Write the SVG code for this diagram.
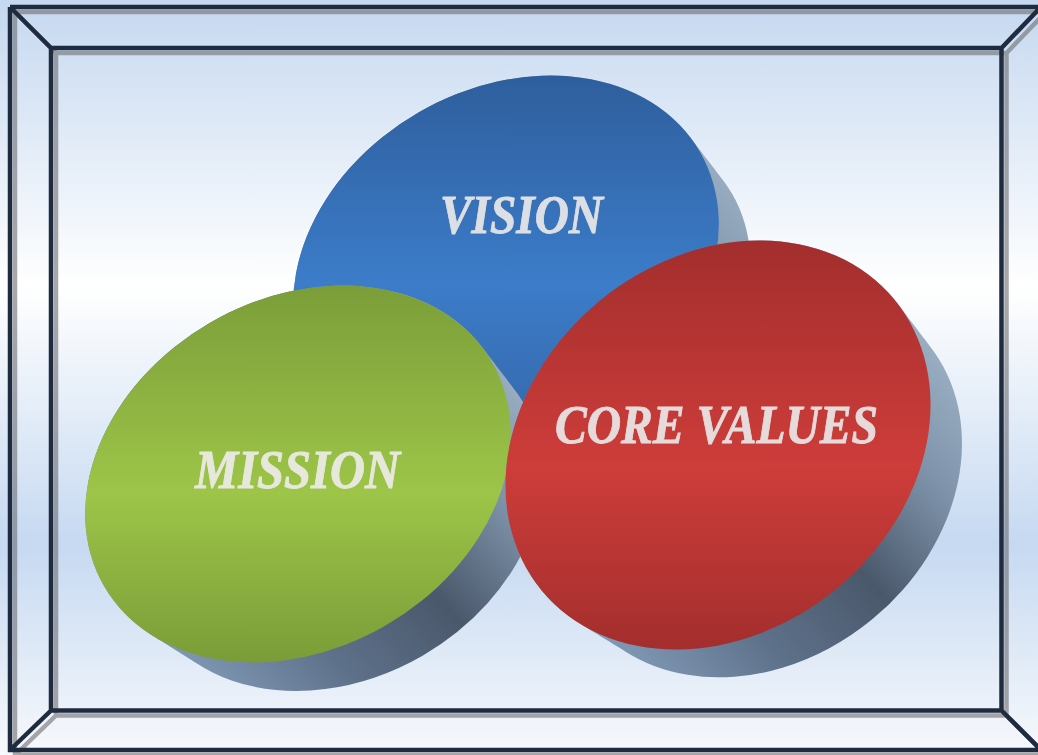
<svg xmlns="http://www.w3.org/2000/svg" xmlns:xlink="http://www.w3.org/1999/xlink" width="1038" height="755" viewBox="0 0 1038 755">
  <style>
    .lbl { font-family: "Liberation Serif", "DejaVu Serif", serif; font-weight: bold; font-style: italic; font-size: 54px; text-anchor: middle; stroke-width: 0.9; }
    .frameLine { fill: none; stroke: #1f2b3e; stroke-width: 4.5; stroke-linejoin: miter; }
    .frameShadow { fill: none; stroke: #6e6e72; stroke-width: 4.5; }
  </style>
  <defs>
    <linearGradient id="bg" x1="0" y1="0" x2="0" y2="755" gradientUnits="userSpaceOnUse">
      <stop offset="0" stop-color="#c5d8f0"/>
      <stop offset="0.38" stop-color="#ffffff"/>
      <stop offset="0.72" stop-color="#c6d9f1"/>
      <stop offset="1" stop-color="#f7f9fc"/>
    </linearGradient>
    <linearGradient id="shade" x1="235" y1="-120" x2="-110" y2="200" gradientUnits="userSpaceOnUse">
      <stop offset="0" stop-color="#a3b7ca"/>
      <stop offset="0.25" stop-color="#7f94ab"/>
      <stop offset="0.5" stop-color="#4a586b"/>
      <stop offset="0.75" stop-color="#5e718a"/>
      <stop offset="1" stop-color="#8199b6"/>
    </linearGradient>
    <linearGradient id="blueFace" x1="0" y1="-190" x2="0" y2="190" gradientUnits="userSpaceOnUse">
      <stop offset="0" stop-color="#2e5e9c"/>
      <stop offset="0.55" stop-color="#3c7cc9"/>
      <stop offset="1" stop-color="#3465a6"/>
    </linearGradient>
    <linearGradient id="greenFace" x1="0" y1="-190" x2="0" y2="190" gradientUnits="userSpaceOnUse">
      <stop offset="0" stop-color="#7b9d39"/>
      <stop offset="0.55" stop-color="#9dc548"/>
      <stop offset="1" stop-color="#7a9c38"/>
    </linearGradient>
    <linearGradient id="redFace" x1="0" y1="-205" x2="0" y2="205" gradientUnits="userSpaceOnUse">
      <stop offset="0" stop-color="#a22e2d"/>
      <stop offset="0.55" stop-color="#cd3d3a"/>
      <stop offset="1" stop-color="#a32e2d"/>
    </linearGradient>
    <clipPath id="clipGB" clipPathUnits="userSpaceOnUse">
      <ellipse rx="224" ry="175" transform="rotate(-30)"/>
      <ellipse rx="224" ry="175" transform="translate(5.125,4.625) scale(0.994375) rotate(-30)"/>
      <ellipse rx="224" ry="175" transform="translate(10.25,9.25) scale(0.98875) rotate(-30)"/>
      <ellipse rx="224" ry="175" transform="translate(15.375,13.875) scale(0.983125) rotate(-30)"/>
      <ellipse rx="224" ry="175" transform="translate(20.5,18.5) scale(0.9775) rotate(-30)"/>
      <ellipse rx="224" ry="175" transform="translate(25.625,23.125) scale(0.971875) rotate(-30)"/>
      <ellipse rx="224" ry="175" transform="translate(30.75,27.75) scale(0.96625) rotate(-30)"/>
      <ellipse rx="224" ry="175" transform="translate(35.875,32.375) scale(0.960625) rotate(-30)"/>
      <ellipse rx="224" ry="175" transform="translate(41,37) scale(0.955) rotate(-30)"/>
    </clipPath>
    <clipPath id="clipR" clipPathUnits="userSpaceOnUse">
      <ellipse rx="228.6" ry="186.4" transform="rotate(-39.5)"/>
      <ellipse rx="228.6" ry="186.4" transform="translate(5.125,4.625) scale(0.994375) rotate(-39.5)"/>
      <ellipse rx="228.6" ry="186.4" transform="translate(10.25,9.25) scale(0.98875) rotate(-39.5)"/>
      <ellipse rx="228.6" ry="186.4" transform="translate(15.375,13.875) scale(0.983125) rotate(-39.5)"/>
      <ellipse rx="228.6" ry="186.4" transform="translate(20.5,18.5) scale(0.9775) rotate(-39.5)"/>
      <ellipse rx="228.6" ry="186.4" transform="translate(25.625,23.125) scale(0.971875) rotate(-39.5)"/>
      <ellipse rx="228.6" ry="186.4" transform="translate(30.75,27.75) scale(0.96625) rotate(-39.5)"/>
      <ellipse rx="228.6" ry="186.4" transform="translate(35.875,32.375) scale(0.960625) rotate(-39.5)"/>
      <ellipse rx="228.6" ry="186.4" transform="translate(41,37) scale(0.955) rotate(-39.5)"/>
    </clipPath>
    <path id="frame" d="M10,7 H1050 M10,7 V750 H1050 M51,48 H1001.5 V710.5 H51 Z M10,7 L51,48 M1040,8 L1001.5,48 M51,710.5 L10,750 M1001.5,710.5 L1040,749"/>
  </defs>

  <rect x="0" y="0" width="1038" height="755" fill="url(#bg)"/>

  <g id="frame-box">
    <g opacity="0.6" transform="translate(5,5)">
      <use xlink:href="#frame" class="frameShadow"/>
    </g>
    <use xlink:href="#frame" class="frameLine"/>
  </g>

  <g id="vision" transform="translate(506,264)">
    <g clip-path="url(#clipGB)">
      <rect x="-260" y="-240" width="580" height="520" fill="url(#shade)"/>
    </g>
    <path d="M194,-112 A224 175 -30 1 1 -194,112 A224 175 -30 1 1 194,-112 Z" fill="url(#blueFace)"/>
    <text class="lbl" x="15.5" y="-31" fill="#dcdfe4" stroke="#dcdfe4" textLength="163" lengthAdjust="spacingAndGlyphs">VISION</text>
  </g>

  <g id="mission" transform="translate(298,474)">
    <g clip-path="url(#clipGB)">
      <rect x="-260" y="-240" width="580" height="520" fill="url(#shade)"/>
    </g>
    <path d="M194,-112 A224 175 -30 1 1 -194,112 A224 175 -30 1 1 194,-112 Z" fill="url(#greenFace)"/>
    <text class="lbl" x="-0.5" y="14" fill="#e6e8dc" stroke="#e6e8dc" textLength="205" lengthAdjust="spacingAndGlyphs">MISSION</text>
  </g>

  <g id="core-values" transform="translate(718,445)">
    <g clip-path="url(#clipR)">
      <rect x="-260" y="-240" width="580" height="520" fill="url(#shade)"/>
    </g>
    <path d="M176.4,-145.4 A228.6 186.4 -39.5 1 1 -176.4,145.4 A228.6 186.4 -39.5 1 1 176.4,-145.4 Z" fill="url(#redFace)"/>
    <text class="lbl" x="-1.5" y="-2" fill="#e6dada" stroke="#e6dada" textLength="323" lengthAdjust="spacingAndGlyphs">CORE VALUES</text>
  </g>
</svg>
